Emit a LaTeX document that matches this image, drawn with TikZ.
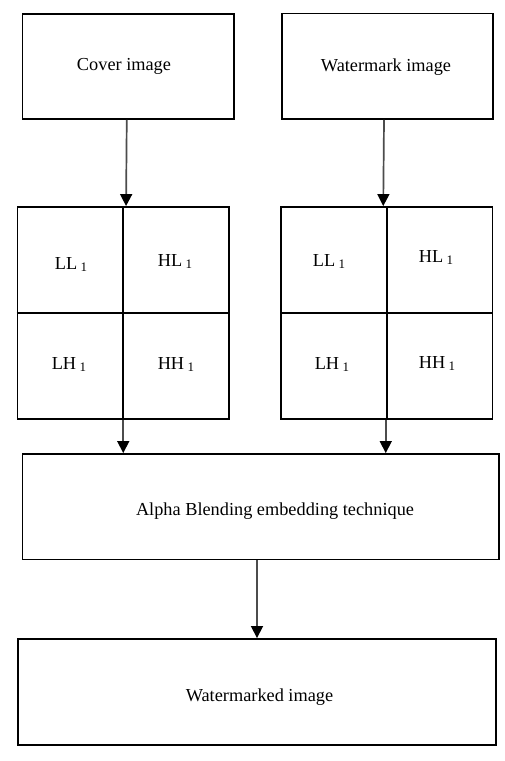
\documentclass[tikz,border=0pt]{standalone}
\usepackage{fontspec}
\setmainfont{Liberation Serif}
\usetikzlibrary{arrows.meta,calc}
\newcommand{\subone}{\hspace{3.5pt}\raisebox{-2pt}{\fontsize{13}{13}\selectfont 1}}
\begin{document}
\begin{tikzpicture}[x=1pt,y=-1pt,
  box/.style={draw=black,line width=1.9pt,rectangle,inner sep=0pt},
  lbl/.style={inner sep=0pt,font=\fontsize{18.3}{20}\selectfont},
  arr/.style={draw={black!70},line width=1.7pt,-{Triangle[width=12pt,length=12pt,color=black]}}]
\useasboundingbox[fill=white] (0,0) rectangle (505,761);
\node[box,minimum width=211.5pt,minimum height=105pt] (cover) at (128.25,66.5) {};
\node[lbl] (covert) at (124,66) {Cover image};
\node[box,minimum width=211pt,minimum height=105.5pt] (wm) at (387.5,66.25) {};
\node[lbl] (wmt) at (386,67) {Watermark image};
\node[box,minimum width=211.5pt,minimum height=212pt] (lgrid) at (123.25,313) {};
\node[box,minimum width=211.5pt,minimum height=212pt] (rgrid) at (386.75,313) {};
\draw[line width=1.9pt] (lgrid.north) -- (lgrid.south);
\draw[line width=1.9pt] (lgrid.west) -- (lgrid.east);
\draw[line width=1.9pt] (rgrid.north) -- (rgrid.south);
\draw[line width=1.9pt] (rgrid.west) -- (rgrid.east);
\node[lbl] (lll) at (71,265) {LL\subone};
\node[lbl] (lhl) at (175,262) {HL\subone};
\node[lbl] (llh) at (69,365) {LH\subone};
\node[lbl] (lhh) at (176,365) {HH\subone};
\node[lbl] (rll) at (329,262) {LL\subone};
\node[lbl] (rhl) at (436,258) {HL\subone};
\node[lbl] (rlh) at (332,365) {LH\subone};
\node[lbl] (rhh) at (437,364) {HH\subone};
\node[box,minimum width=476.5pt,minimum height=105.5pt] (alpha) at (260.75,506.75) {};
\node[lbl] (alphat) at (275,511) {Alpha Blending embedding technique};
\node[box,minimum width=478pt,minimum height=106pt] (out) at (257,692) {};
\node[lbl] (outt) at (259.5,697) {Watermarked image};
\draw[arr] ($(cover.south)+(-1.5,0)$) -- ($(lgrid.north)+(2.8,0)$);
\draw[arr] ($(wm.south)+(-3.5,0)$) -- ($(rgrid.north)+(-3.5,0)$);
\draw[arr] (lgrid.south) -- (lgrid.south |- alpha.north);
\draw[arr] ($(rgrid.south)+(-1,0)$) -- ($(rgrid.south |- alpha.north)+(-1,0)$);
\draw[arr] (out.north |- alpha.south) -- (out.north);
\end{tikzpicture}
\end{document}
